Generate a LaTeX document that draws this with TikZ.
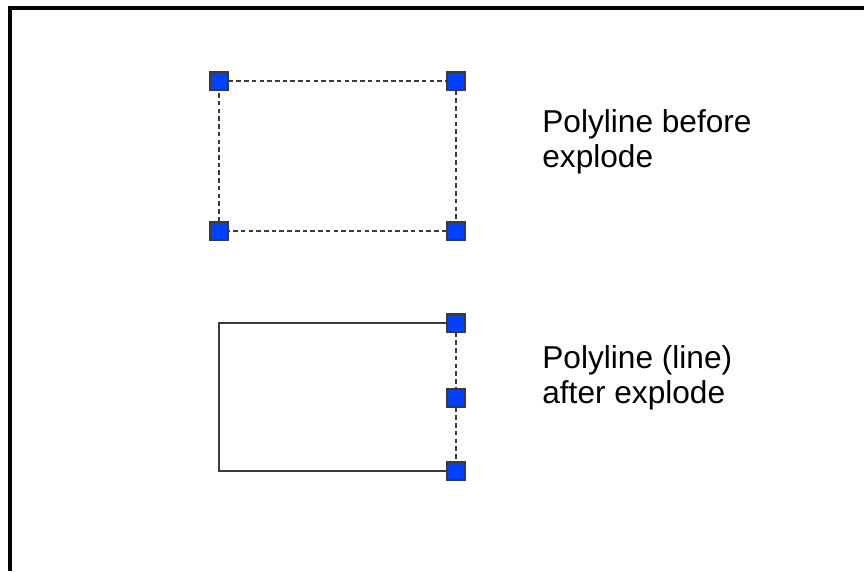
\documentclass[tikz,border=0pt]{standalone}
\usepackage{fontspec}
\setmainfont{Liberation Sans}
\usepackage{tikz}
\definecolor{grHandle}{HTML}{0040FF}
\definecolor{grEdge}{HTML}{3A3A3A}
\definecolor{grFrame}{HTML}{000000}

\begin{document}
\begin{tikzpicture}[
    x=0.02cm, y=-0.02cm,
    grip/.style={rectangle, draw=grEdge, line width=0.7pt, fill=grHandle,
                 minimum size=0.36cm, inner sep=0pt},
    seg/.style={grEdge, line width=1.1pt, dash pattern=on 2.6pt off 1.8pt},
    solid seg/.style={grEdge, line width=1pt},
    caption/.style={anchor=base west, align=left, inner sep=0pt,
                    font=\fontsize{18}{19.8}\selectfont}
  ]
  \useasboundingbox (0,0) rectangle (864,571);
  \draw[grFrame, line width=2.2pt] (864,8) -- (10,8) -- (10,571);

  \node[grip] (p1) at (219,81)  {};
  \node[grip] (p2) at (456,81)  {};
  \node[grip] (p3) at (219,231) {};
  \node[grip] (p4) at (456,231) {};

  \draw[seg] (p1) -- (p2);
  \draw[seg] (p2) -- (p4);
  \draw[seg] (p4) -- (p3);
  \draw[seg] (p3) -- (p1);

  \node[grip] (q1) at (456,323) {};
  \node[grip] (q2) at (456,398) {};
  \node[grip] (q3) at (456,471) {};
  \coordinate (qa) at (219,323);
  \coordinate (qb) at (219,471);

  \draw[solid seg] (q1) -- (qa) -- (qb) -- (q3);
  \draw[seg] (q1) -- (q2);
  \draw[seg] (q2) -- (q3);

  \node[caption] (before) at (542,167) {Polyline before\\explode};
  \node[caption] (after)  at (542,403) {Polyline (line)\\after explode};
\end{tikzpicture}
\end{document}
